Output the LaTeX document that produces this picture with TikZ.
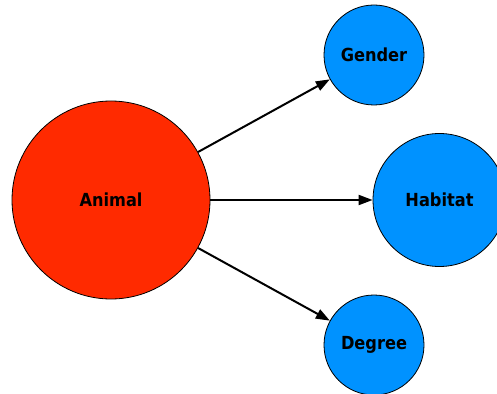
\documentclass[tikz,border=0pt]{standalone}
\usepackage{fontspec}
\setmainfont{DejaVu Sans}
\newfontfamily\labelfont{DejaVu Sans Condensed}
\usetikzlibrary{arrows.meta}

\definecolor{animalred}{RGB}{255,42,0}
\definecolor{featblue}{RGB}{0,146,255}

\tikzset{
  bubble/.style={circle,draw=black,line width=0.8pt,inner sep=0pt,font=\labelfont\bfseries\fontsize{18}{20}\selectfont},
  link/.style={line width=2pt,-{Triangle[length=14pt,width=10pt]}}
}

\begin{document}
\begin{tikzpicture}[x=1pt,y=-1pt]
            \useasboundingbox (0,0) rectangle (497,393);
            \node (animal) at (111,200) [bubble,fill=animalred,minimum size=198pt] {Animal};
            \node (gender) at (374,55) [bubble,fill=featblue,minimum size=100pt] {Gender};
            \node (habitat) at (439.5,200) [bubble,fill=featblue,minimum size=133pt] {Habitat};
            \node (degree) at (374,345) [bubble,fill=featblue,minimum size=100pt] {Degree};

            \draw[link] (animal) -- (gender);
            \draw[link] (animal) -- (habitat);
            \draw[link] (animal) -- (degree);
        \end{tikzpicture}
\end{document}
